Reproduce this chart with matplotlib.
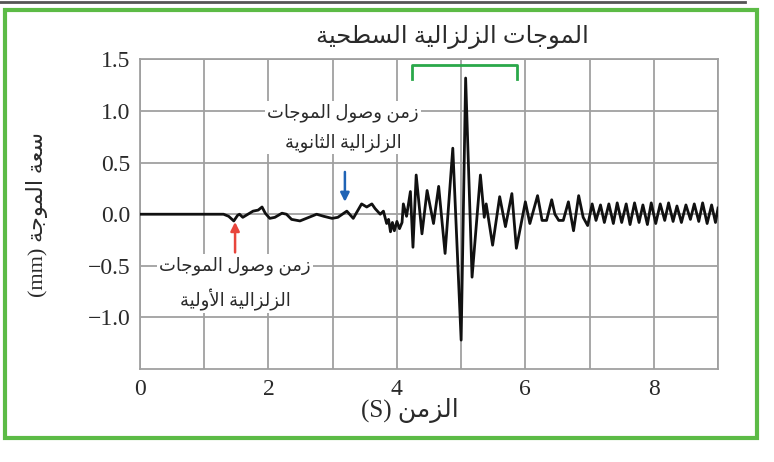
import matplotlib
matplotlib.use("Agg")
import matplotlib.pyplot as plt
from matplotlib.patches import Rectangle
from matplotlib.lines import Line2D

# Arabic presentation forms: isolated, final, initial, medial
FORMS = {
    'ا': ('\uFE8D', '\uFE8E', None, None),
    'أ': ('\uFE83', '\uFE84', None, None),
    'ة': ('\uFE93', '\uFE94', None, None),
    'ت': ('\uFE95', '\uFE96', '\uFE97', '\uFE98'),
    'ث': ('\uFE99', '\uFE9A', '\uFE9B', '\uFE9C'),
    'ج': ('\uFE9D', '\uFE9E', '\uFE9F', '\uFEA0'),
    'ح': ('\uFEA1', '\uFEA2', '\uFEA3', '\uFEA4'),
    'ز': ('\uFEAF', '\uFEB0', None, None),
    'س': ('\uFEB1', '\uFEB2', '\uFEB3', '\uFEB4'),
    'ص': ('\uFEB9', '\uFEBA', '\uFEBB', '\uFEBC'),
    'ط': ('\uFEC1', '\uFEC2', '\uFEC3', '\uFEC4'),
    'ع': ('\uFEC9', '\uFECA', '\uFECB', '\uFECC'),
    'ل': ('\uFEDD', '\uFEDE', '\uFEDF', '\uFEE0'),
    'م': ('\uFEE1', '\uFEE2', '\uFEE3', '\uFEE4'),
    'ن': ('\uFEE5', '\uFEE6', '\uFEE7', '\uFEE8'),
    'و': ('\uFEED', '\uFEEE', None, None),
    'ي': ('\uFEF1', '\uFEF2', '\uFEF3', '\uFEF4'),
}
LAM_ALEF = {'ا': ('\uFEFB', '\uFEFC', None, None),
            'أ': ('\uFEF7', '\uFEF8', None, None)}


def shape_word(word):
    units = []
    i = 0
    while i < len(word):
        c = word[i]
        if c == 'ل' and i + 1 < len(word) and word[i + 1] in LAM_ALEF:
            units.append(LAM_ALEF[word[i + 1]])
            i += 2
            continue
        units.append(FORMS.get(c, (c, c, None, None)))
        i += 1
    out = []
    for k, u in enumerate(units):
        prev = k > 0 and units[k - 1][2] is not None
        nxt = k < len(units) - 1 and u[2] is not None
        if prev and nxt:
            out.append(u[3])
        elif prev:
            out.append(u[1])
        elif nxt:
            out.append(u[2])
        else:
            out.append(u[0])
    return ''.join(out)


def ar(text):
    words = text.split(' ')
    return ' '.join(shape_word(w)[::-1] for w in reversed(words))


# waveform (time in s, amplitude in mm)
t = [0.0, 1.30, 1.38, 1.46, 1.52, 1.55, 1.60, 1.68, 1.76, 1.84, 1.90, 1.95,
     2.02, 2.10, 2.21, 2.28, 2.36, 2.49, 2.63, 2.75, 2.86, 2.99, 3.08, 3.22,
     3.32, 3.45, 3.53, 3.61, 3.66, 3.74, 3.79, 3.84, 3.87, 3.90, 3.93, 3.96,
     4.00, 4.04, 4.08, 4.10, 4.15, 4.21, 4.25, 4.30, 4.39, 4.47, 4.57, 4.65,
     4.75, 4.87, 5.00, 5.07, 5.17, 5.30, 5.36, 5.39, 5.49, 5.60, 5.69, 5.79,
     5.86, 6.00, 6.07, 6.19, 6.26, 6.33, 6.41, 6.46, 6.52, 6.59, 6.67, 6.75,
     6.83, 6.90, 6.97, 7.04, 7.10, 7.17, 7.23, 7.30, 7.37, 7.43, 7.50, 7.57,
     7.63, 7.70, 7.77, 7.83, 7.90, 7.96, 8.03, 8.10, 8.17, 8.23, 8.30, 8.36,
     8.43, 8.50, 8.57, 8.63, 8.70, 8.76, 8.83, 8.90, 8.96, 9.00]
amp = [0.0, 0.0, -0.02, -0.065, -0.01, 0.0, -0.03, 0.0, 0.03, 0.04, 0.07, 0.01,
       -0.04, -0.03, 0.01, 0.0, -0.05, -0.065, -0.03, 0.0, -0.02, -0.04, -0.03, 0.03,
       -0.04, 0.10, 0.07, 0.10, 0.055, 0.0, 0.03, -0.09, -0.05, -0.17, -0.08, -0.16,
       -0.07, -0.14, -0.08, 0.10, -0.02, 0.22, -0.32, 0.38, -0.19, 0.23, -0.09, 0.27,
       -0.38, 0.64, -1.22, 1.32, -0.61, 0.38, -0.03, 0.10, -0.30, 0.17, -0.12, 0.20,
       -0.33, 0.12, -0.09, 0.18, -0.06, -0.06, 0.14, 0.0, -0.06, -0.06, 0.12, -0.16,
       0.18, -0.03, -0.11, 0.10, -0.06, 0.09, -0.08, 0.10, -0.09, 0.11, -0.08, 0.10,
       -0.10, 0.11, -0.08, 0.09, -0.10, 0.11, -0.09, 0.10, -0.06, 0.11, -0.07, 0.08,
       -0.08, 0.09, -0.05, 0.10, -0.07, 0.11, -0.09, 0.09, -0.08, 0.06]

x_ticks = [0, 2, 4, 6, 8]
y_ticks = [-1.0, -0.5, 0.0, 0.5, 1.0, 1.5]
y_labels = ['\u22121.0', '\u22120.5', '0.0', '0.5', '1.0', '1.5']

title = ar('الموجات الزلزالية السطحية')
x_label = '(S) ' + ar('الزمن')
y_label = '(mm) ' + ar('سعة الموجة')
p_label = ar('زمن وصول الموجات') + '\n' + ar('الزلزالية الأولية')
s_label = ar('زمن وصول الموجات') + '\n' + ar('الزلزالية الثانوية')

FONT = ['Liberation Serif', 'DejaVu Sans']
GRID = '#a0a0a0'
TXT = '#2a2a2a'

fig = plt.figure(figsize=(7.74, 4.62), dpi=100)
ax = fig.add_axes([0.1809, 0.2013, 0.7468, 0.67])

ax.plot(t, amp, color='#111111', lw=2.0, zorder=3, solid_joinstyle='round')

ax.set_xlim(0, 9)
ax.set_ylim(-1.5, 1.5)
ax.set_xticks(x_ticks)
ax.set_xticks(range(0, 10), minor=True)
ax.set_yticks(y_ticks)
ax.set_yticklabels(y_labels)
ax.grid(True, which='both', color=GRID, lw=1.3)
ax.tick_params(which='both', length=0, labelsize=17, colors=TXT, pad=7)
for lab in ax.get_xticklabels() + ax.get_yticklabels():
    lab.set_family('Liberation Serif')
for s in ax.spines.values():
    s.set_color(GRID)
    s.set_linewidth(1.3)

ax.set_xlabel(x_label, family=FONT, fontsize=18, color=TXT)
ax.xaxis.set_label_coords(0.467, -0.095)
ax.set_ylabel(y_label, family=FONT, fontsize=16, color=TXT)
ax.yaxis.set_label_coords(-0.16, 0.5)

fig.text(0.584, 0.92, title, family=FONT, fontsize=17.5, color=TXT,
         ha='center', va='center')

box = dict(facecolor='white', edgecolor='none', pad=1.5)
ax.text(1.48, -0.67, p_label, family=FONT, fontsize=13, color=TXT, ha='center',
        va='center', linespacing=1.8, bbox=box, zorder=4)
ax.text(3.16, 0.84, s_label, family=FONT, fontsize=13, color=TXT, ha='center',
        va='center', linespacing=1.8, bbox=box, zorder=4)

# arrival arrows
ax.annotate('', xy=(1.48, -0.075), xytext=(1.48, -0.37),
            arrowprops=dict(arrowstyle='-|>', color='#e8453c', lw=1.8,
                            mutation_scale=13, shrinkA=0, shrinkB=0), zorder=5)
ax.annotate('', xy=(3.19, 0.12), xytext=(3.19, 0.41),
            arrowprops=dict(arrowstyle='-|>', color='#1f63b5', lw=1.8,
                            mutation_scale=13, shrinkA=0, shrinkB=0), zorder=5)

# surface-wave bracket
ax.plot([4.23, 4.23, 5.87, 5.87], [1.31, 1.45, 1.45, 1.31], color='#2aa84a',
        lw=2, zorder=4)

# green frame and top edge of the page
fig.patches.append(Rectangle((5 / 774, 1 - 438 / 462), 752 / 774, 428 / 462,
                             transform=fig.transFigure, fill=False,
                             edgecolor='#5cbb46', lw=3))
fig.lines.append(Line2D([0, 745 / 774], [1 - 1.5 / 462] * 2,
                        transform=fig.transFigure, color='#555555', lw=2))

fig.savefig('out.png', dpi=100)
